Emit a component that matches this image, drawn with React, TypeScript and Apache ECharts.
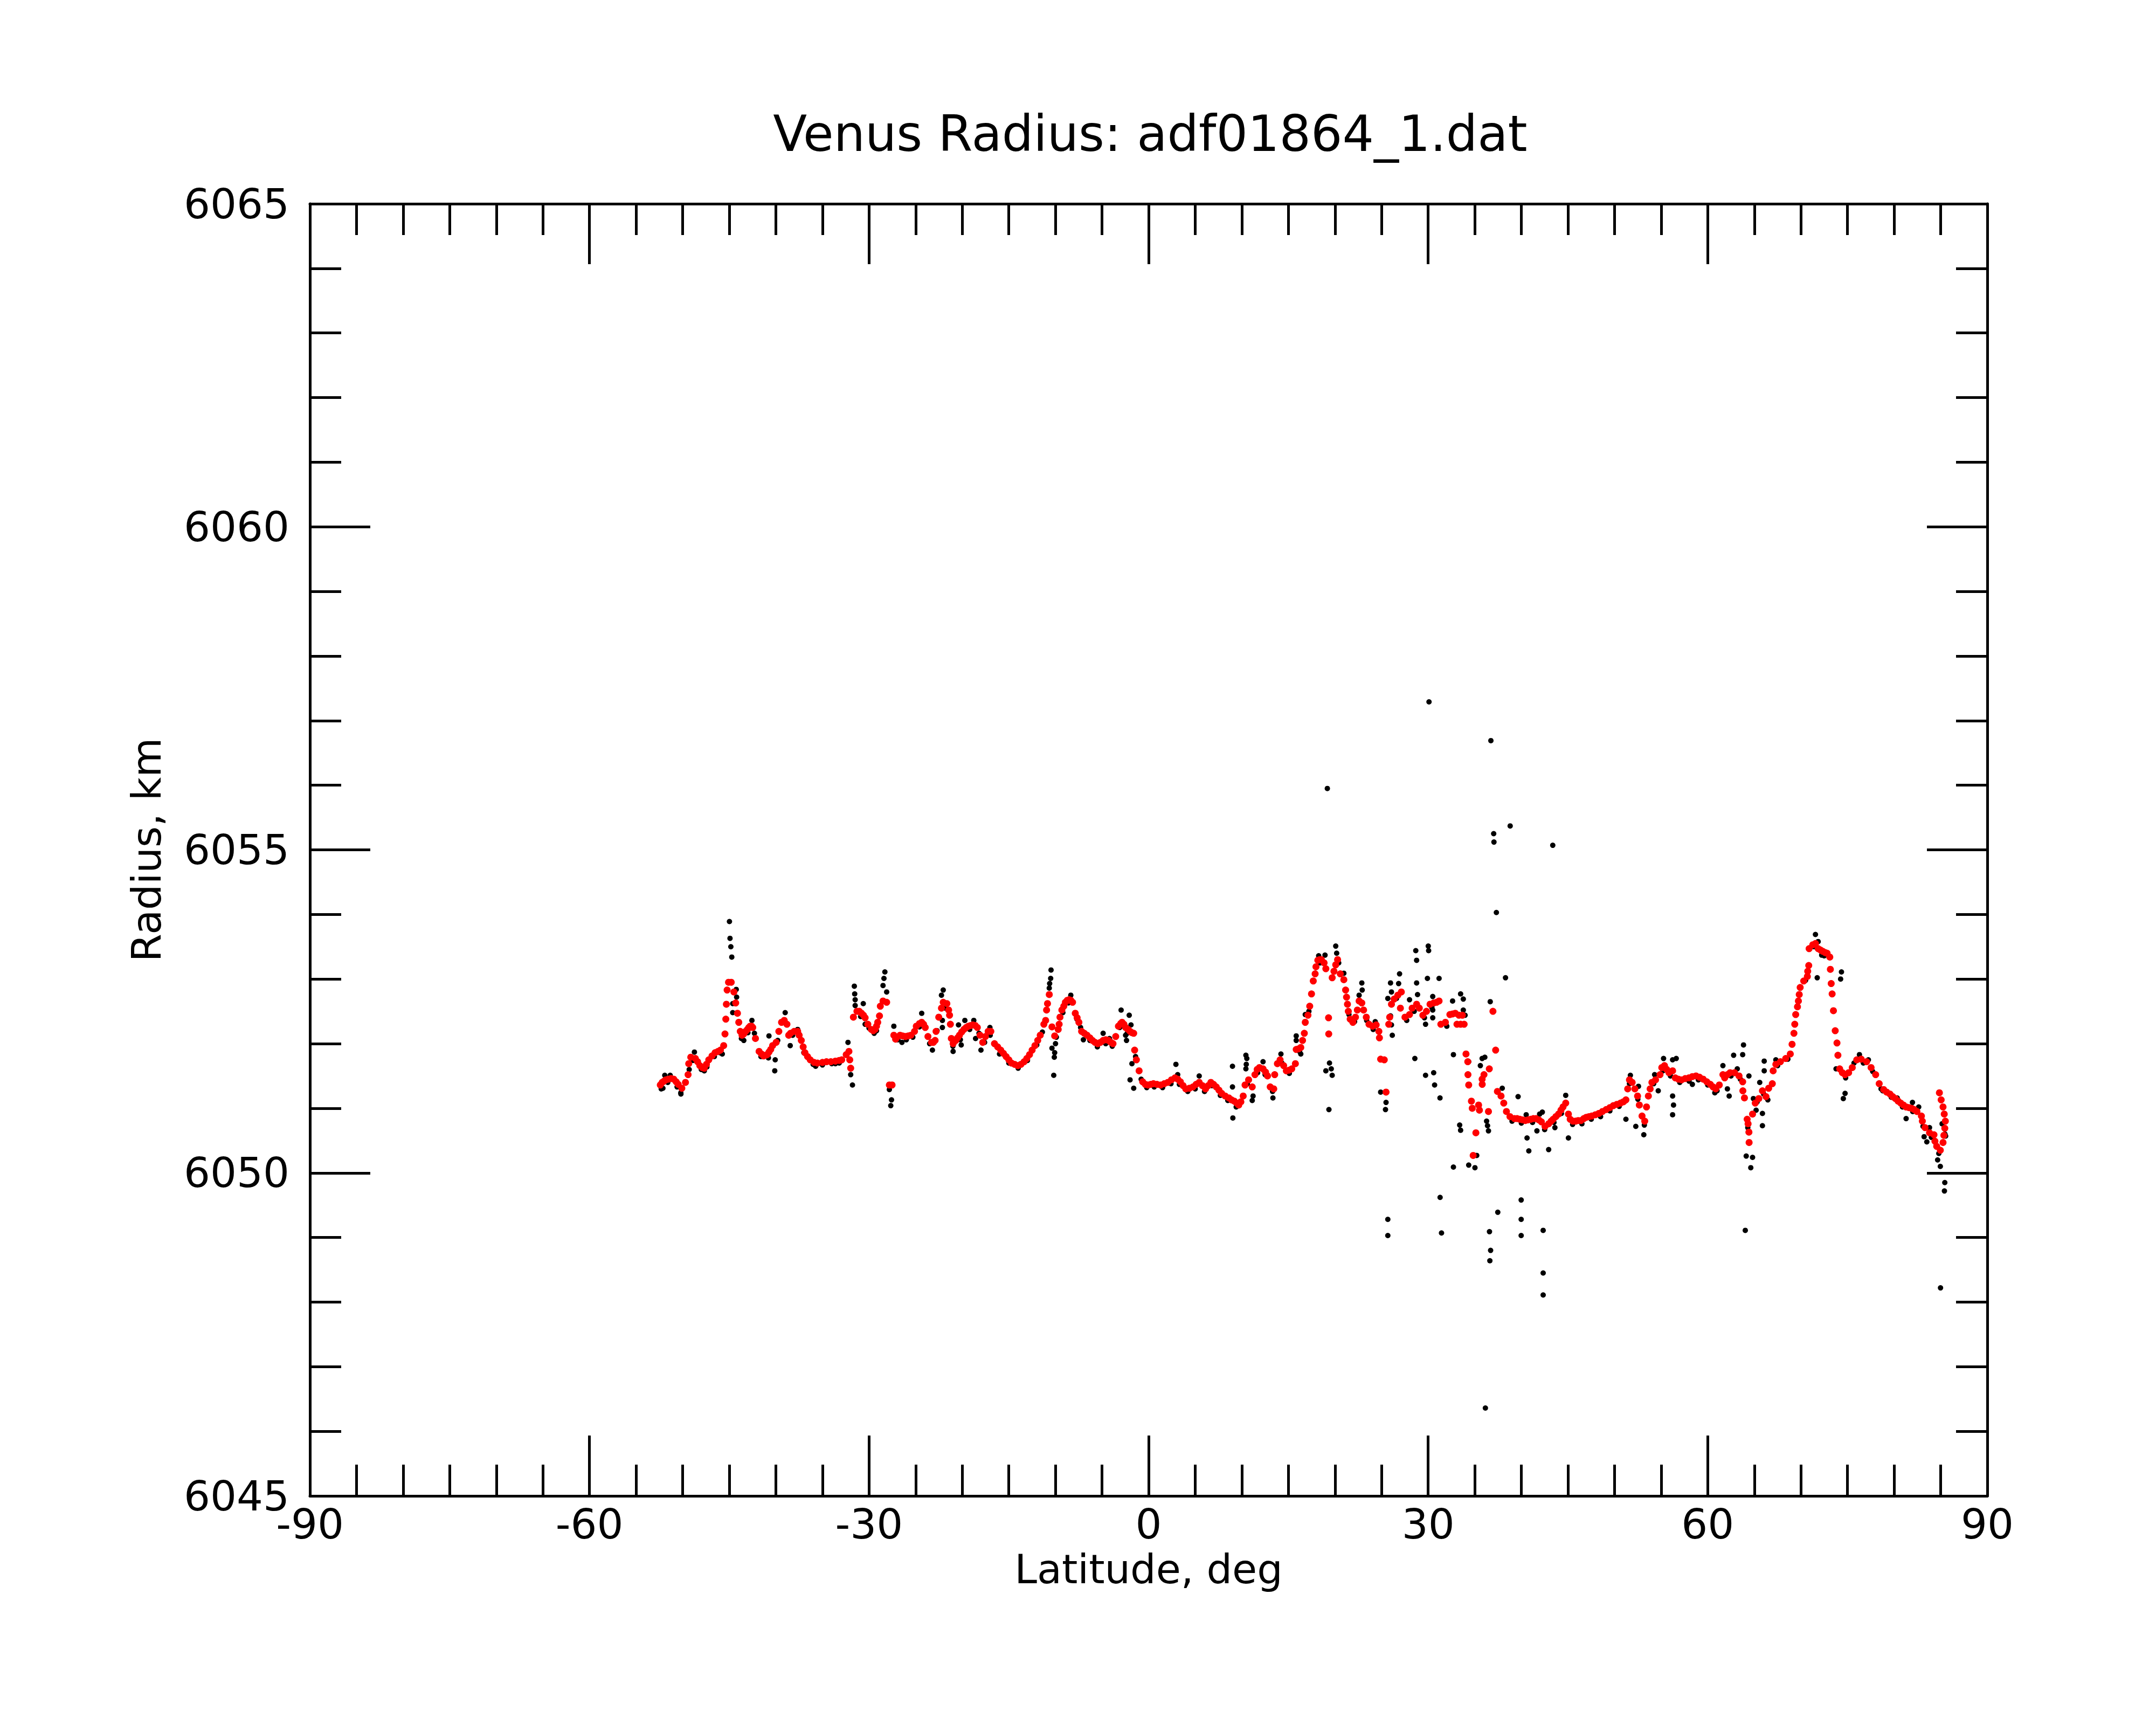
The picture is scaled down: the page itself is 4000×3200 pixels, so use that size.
import React, { useEffect, useRef } from "react";
import * as echarts from "echarts";

const titleText = "Venus Radius: adf01864_1.dat";
const xName = "Latitude, deg";
const yName = "Radius, km";
const xMin = -90;
const xMax = 90;
const xStep = 30;
const yMin = 6045;
const yMax = 6065;
const yStep = 5;

// Smoothed profile (red), southern part
const redSouth: [number, number][] = [
  [-52.4, 6051.36], [-52.2, 6051.4], [-52.0, 6051.42], [-51.8, 6051.44], [-51.54, 6051.45], [-51.25, 6051.46],
  [-50.96, 6051.45], [-50.7, 6051.41], [-50.48, 6051.37], [-50.09, 6051.31], [-49.7, 6051.4], [-49.42, 6051.52],
  [-49.35, 6051.69], [-49.13, 6051.79], [-48.64, 6051.77], [-48.4, 6051.72], [-48.16, 6051.66], [-47.9, 6051.63],
  [-47.68, 6051.62], [-47.45, 6051.68], [-47.2, 6051.75], [-46.85, 6051.81], [-46.52, 6051.86], [-46.2, 6051.88],
  [-45.95, 6051.9], [-45.6, 6051.97], [-45.46, 6052.15], [-45.37, 6052.38], [-45.31, 6052.61], [-45.23, 6052.83],
  [-45.08, 6052.95], [-44.79, 6052.95], [-44.5, 6052.8], [-44.31, 6052.63], [-44.12, 6052.47], [-43.98, 6052.33],
  [-43.82, 6052.19], [-43.63, 6052.13], [-43.45, 6052.15], [-43.25, 6052.19], [-43.05, 6052.22], [-42.9, 6052.25],
  [-42.76, 6052.27], [-42.6, 6052.27], [-42.48, 6052.25], [-42.19, 6052.08], [-41.8, 6051.88], [-41.55, 6051.84],
  [-41.32, 6051.81], [-41.1, 6051.82], [-40.93, 6051.83], [-40.74, 6051.87], [-40.55, 6051.91], [-40.35, 6051.97],
  [-39.97, 6052.02], [-39.68, 6052.19], [-39.39, 6052.33], [-39.1, 6052.36], [-38.81, 6052.3], [-38.62, 6052.13],
  [-38.43, 6052.16], [-38.04, 6052.19], [-37.66, 6052.19], [-37.5, 6052.13], [-37.27, 6052.05], [-37.07, 6051.95],
  [-36.88, 6051.86], [-36.6, 6051.8], [-36.31, 6051.75], [-35.9, 6051.71], [-35.53, 6051.7], [-35.0, 6051.71],
  [-34.57, 6051.72], [-34.1, 6051.72], [-33.61, 6051.73], [-33.2, 6051.74], [-32.93, 6051.75], [-32.45, 6051.83],
  [-32.16, 6051.88], [-32.07, 6051.75], [-31.97, 6051.62], [-31.68, 6052.41], [-31.3, 6052.5], [-31.05, 6052.5],
  [-30.81, 6052.47], [-30.6, 6052.44], [-30.42, 6052.4], [-30.13, 6052.3], [-29.75, 6052.22], [-29.55, 6052.2],
  [-29.36, 6052.22], [-29.2, 6052.27], [-29.07, 6052.33], [-28.88, 6052.43], [-28.79, 6052.58], [-28.5, 6052.66],
  [-28.11, 6052.64], [-27.82, 6051.36], [-27.53, 6051.36], [-27.34, 6052.13], [-27.15, 6052.07], [-27.0, 6052.1],
  [-26.67, 6052.13], [-26.4, 6052.12], [-26.09, 6052.11], [-25.8, 6052.12], [-25.51, 6052.13], [-25.12, 6052.19],
  [-24.93, 6052.27], [-24.6, 6052.31], [-24.35, 6052.33], [-24.15, 6052.3], [-23.97, 6052.25], [-23.68, 6052.11],
  [-23.29, 6052.02], [-23.1, 6052.02], [-22.91, 6052.05], [-22.81, 6052.19], [-22.52, 6052.41], [-22.23, 6052.55],
  [-22.04, 6052.64], [-21.65, 6052.62], [-21.46, 6052.52], [-21.36, 6052.44], [-21.27, 6052.3], [-21.17, 6052.08],
  [-20.98, 6052.0], [-20.69, 6052.05], [-20.5, 6052.09], [-20.3, 6052.13], [-20.06, 6052.18], [-19.82, 6052.22],
  [-19.58, 6052.25], [-19.34, 6052.27], [-19.1, 6052.28], [-18.86, 6052.29], [-18.6, 6052.28], [-18.38, 6052.25],
  [-18.09, 6052.13], [-17.8, 6052.02], [-17.51, 6052.11], [-17.22, 6052.19], [-16.93, 6052.19], [-16.54, 6052.0],
  [-16.2, 6051.95], [-15.87, 6051.9], [-15.58, 6051.85], [-15.29, 6051.8], [-15.0, 6051.75], [-14.71, 6051.7],
  [-14.38, 6051.68], [-14.04, 6051.66], [-13.7, 6051.68], [-13.36, 6051.72], [-13.07, 6051.77], [-12.78, 6051.83],
  [-12.5, 6051.9], [-12.2, 6051.97], [-11.9, 6052.05], [-11.63, 6052.13], [-11.24, 6052.3], [-11.05, 6052.36],
  [-10.95, 6052.52], [-10.85, 6052.62], [-10.66, 6052.76], [-10.37, 6052.26], [-10.08, 6052.12], [-9.7, 6052.22],
  [-9.6, 6052.3], [-9.51, 6052.41], [-9.31, 6052.52], [-9.1, 6052.58], [-8.93, 6052.64], [-8.73, 6052.67],
  [-8.54, 6052.68], [-8.35, 6052.67], [-8.16, 6052.64], [-7.87, 6052.47], [-7.67, 6052.4], [-7.48, 6052.33],
  [-7.19, 6052.19], [-6.9, 6052.16], [-6.61, 6052.13], [-6.3, 6052.09], [-6.03, 6052.05], [-5.75, 6052.02],
  [-5.46, 6052.0], [-5.17, 6052.02], [-4.88, 6052.05], [-4.6, 6052.06], [-4.3, 6052.05], [-4.05, 6052.02],
  [-3.82, 6052.0], [-3.53, 6052.11], [-3.24, 6052.27], [-3.0, 6052.31], [-2.85, 6052.33], [-2.65, 6052.3],
  [-2.47, 6052.25], [-2.2, 6052.22], [-1.99, 6052.19], [-1.8, 6052.17], [-1.6, 6052.16], [-1.5, 6051.9],
  [-1.31, 6051.75], [-1.02, 6051.58], [-0.64, 6051.41], [-0.35, 6051.37], [-0.06, 6051.36],
];

// Smoothed profile (red), northern part
const redNorth: [number, number][] = [
  [0.23, 6051.37], [0.52, 6051.38], [0.9, 6051.37], [1.29, 6051.36], [1.68, 6051.38], [2.06, 6051.4],
  [2.45, 6051.44], [2.83, 6051.47], [3.12, 6051.45], [3.41, 6051.41], [3.7, 6051.35], [3.99, 6051.3],
  [4.38, 6051.31], [4.76, 6051.33], [5.1, 6051.37], [5.43, 6051.4], [5.77, 6051.35], [6.11, 6051.3],
  [6.4, 6051.35], [6.68, 6051.4], [6.97, 6051.37], [7.26, 6051.33], [7.55, 6051.28], [7.84, 6051.23],
  [8.22, 6051.19], [8.61, 6051.16], [8.9, 6051.13], [9.19, 6051.11], [9.45, 6051.08], [9.67, 6051.05],
  [9.9, 6051.1], [10.15, 6051.19], [10.35, 6051.36], [10.73, 6051.44], [11.12, 6051.33], [11.41, 6051.52],
  [11.65, 6051.6], [11.89, 6051.63], [12.28, 6051.61], [12.55, 6051.56], [12.76, 6051.5], [13.05, 6051.33],
  [13.43, 6051.3], [13.53, 6051.52], [13.82, 6051.69], [14.11, 6051.75], [14.49, 6051.66], [14.78, 6051.58],
  [15.08, 6051.59], [15.36, 6051.61], [15.75, 6051.69], [15.84, 6051.91], [16.1, 6051.92], [16.33, 6051.94],
  [16.52, 6052.05], [16.71, 6052.16], [16.81, 6052.33], [17.1, 6052.44], [17.29, 6052.58], [17.48, 6052.77],
  [17.67, 6052.97], [17.87, 6053.08], [17.96, 6053.19], [18.16, 6053.29], [18.35, 6053.3], [18.54, 6053.3],
  [18.83, 6053.25], [19.02, 6053.16], [19.31, 6052.4], [19.33, 6052.15], [19.7, 6053.02], [19.89, 6053.12],
  [20.08, 6053.22], [20.28, 6053.3], [20.57, 6053.08], [20.95, 6052.99], [21.14, 6052.83], [21.24, 6052.72],
  [21.34, 6052.61], [21.43, 6052.5], [21.63, 6052.38], [21.92, 6052.33], [22.2, 6052.41], [22.4, 6052.52],
  [22.59, 6052.66], [22.88, 6052.63], [23.07, 6052.52], [23.36, 6052.41], [23.65, 6052.3], [24.04, 6052.27],
  [24.42, 6052.29], [24.71, 6052.19], [24.77, 6052.09], [24.9, 6051.76], [25.29, 6051.75], [25.48, 6051.25],
  [25.77, 6052.3], [25.87, 6052.41], [26.06, 6052.61], [26.35, 6052.69], [26.74, 6052.75], [27.12, 6052.8],
  [27.02, 6052.55], [27.51, 6052.41], [28.0, 6052.45], [28.28, 6052.55], [28.76, 6052.61], [29.05, 6052.55],
  [29.43, 6052.44], [29.82, 6052.5], [30.2, 6052.61], [30.59, 6052.63], [30.9, 6052.64], [31.17, 6052.66],
  [31.36, 6052.3], [31.85, 6052.33], [32.33, 6052.45], [32.62, 6052.46], [32.91, 6052.47], [33.3, 6052.44],
  [33.67, 6052.44], [33.09, 6052.3], [33.48, 6052.3], [33.86, 6052.3], [34.06, 6051.84], [34.25, 6051.72],
  [34.27, 6051.52], [34.35, 6051.36], [34.64, 6051.11], [34.73, 6051.0], [35.12, 6050.62], [34.83, 6050.27],
  [35.41, 6051.05], [35.5, 6050.97], [35.79, 6051.45], [35.99, 6051.52], [35.8, 6051.37], [36.47, 6050.95],
  [36.56, 6051.61], [36.95, 6052.5], [37.24, 6051.9], [37.43, 6051.26], [37.82, 6051.19], [38.11, 6051.08],
  [38.4, 6050.95], [38.78, 6050.87], [39.26, 6050.84], [39.55, 6050.84], [39.84, 6050.83], [40.13, 6050.82],
  [40.42, 6050.81], [40.71, 6050.82], [41.0, 6050.83], [41.29, 6050.84], [41.58, 6050.84], [41.87, 6050.82],
  [42.15, 6050.79], [42.54, 6050.72], [42.93, 6050.76], [43.2, 6050.8], [43.41, 6050.83], [43.7, 6050.87],
  [43.99, 6050.91], [44.25, 6050.97], [44.47, 6051.02], [44.76, 6051.08], [45.05, 6050.91], [45.24, 6050.83],
  [45.53, 6050.8], [45.82, 6050.8], [46.1, 6050.81], [46.4, 6050.81], [46.7, 6050.84], [46.97, 6050.86],
  [47.26, 6050.87], [47.55, 6050.88], [47.95, 6050.9], [48.32, 6050.92], [48.7, 6050.95], [49.1, 6050.98],
  [49.5, 6051.01], [49.87, 6051.04], [50.25, 6051.06], [50.64, 6051.08], [50.95, 6051.1], [51.22, 6051.13],
  [51.41, 6051.3], [51.6, 6051.44], [51.89, 6051.4], [52.18, 6051.3], [52.47, 6051.19], [52.66, 6051.05],
  [52.95, 6050.88], [53.24, 6050.8], [53.43, 6051.02], [53.63, 6051.19], [53.82, 6051.3], [54.01, 6051.4],
  [54.4, 6051.44], [54.88, 6051.52], [55.07, 6051.63], [55.36, 6051.66], [55.6, 6051.6], [55.84, 6051.55],
  [56.23, 6051.58], [56.52, 6051.47], [56.85, 6051.45], [57.19, 6051.44], [57.58, 6051.46], [57.97, 6051.47],
  [58.35, 6051.49], [58.74, 6051.5], [59.12, 6051.48], [59.51, 6051.45], [59.9, 6051.41], [60.28, 6051.37],
  [60.57, 6051.33], [60.86, 6051.3], [61.24, 6051.36], [61.63, 6051.52], [61.82, 6051.47], [62.11, 6051.52],
  [62.4, 6051.55], [62.88, 6051.55], [63.36, 6051.5], [63.75, 6051.41], [63.77, 6051.27], [63.94, 6051.16],
  [64.23, 6050.83], [64.33, 6050.76], [64.42, 6050.63], [64.44, 6050.47], [64.81, 6050.91], [65.1, 6051.08],
  [65.48, 6051.15], [65.87, 6051.27], [66.25, 6051.18], [66.54, 6051.31], [66.93, 6051.38], [67.02, 6051.58],
  [67.31, 6051.68], [67.8, 6051.72], [68.37, 6051.77], [68.86, 6051.84], [69.05, 6051.99], [69.25, 6052.16],
  [69.34, 6052.3], [69.44, 6052.45], [69.63, 6052.57], [69.73, 6052.66], [69.82, 6052.76], [69.92, 6052.87],
  [70.3, 6052.97], [70.69, 6053.04], [70.73, 6053.12], [70.84, 6053.21], [70.88, 6053.47], [71.27, 6053.53],
  [71.56, 6053.55], [71.85, 6053.47], [72.1, 6053.45], [72.33, 6053.43], [72.6, 6053.41], [72.81, 6053.4],
  [73.1, 6053.34], [73.16, 6053.15], [73.25, 6052.93], [73.35, 6052.77], [73.49, 6052.51], [73.68, 6052.2],
  [73.87, 6052.01], [73.97, 6051.82], [74.16, 6051.61], [74.45, 6051.55], [74.74, 6051.52], [75.12, 6051.55],
  [75.51, 6051.63], [75.99, 6051.75], [76.47, 6051.76], [77.05, 6051.72], [77.53, 6051.63], [78.02, 6051.52],
  [78.4, 6051.38], [78.88, 6051.29], [79.2, 6051.25], [79.56, 6051.22], [79.85, 6051.18], [80.14, 6051.15],
  [80.43, 6051.11], [80.71, 6051.08], [81.0, 6051.05], [81.29, 6051.02], [81.58, 6051.01], [81.87, 6051.0],
  [82.16, 6050.98], [82.45, 6050.95], [82.93, 6050.88], [83.03, 6050.8], [83.32, 6050.7], [83.8, 6050.62],
  [84.28, 6050.59], [84.38, 6050.49], [84.57, 6050.41], [84.96, 6050.35], [85.25, 6050.47], [85.34, 6050.58],
  [85.44, 6050.69], [85.5, 6050.8], [85.38, 6050.91], [85.25, 6051.02], [85.05, 6051.13], [84.86, 6051.24],
];

// Raw radius points (black) lying along the profile
const blackTrack: [number, number][] = [
  [-52.3, 6051.3], [-51.6, 6051.4], [-50.6, 6051.33], [-50.2, 6051.24], [-49.3, 6051.6], [-48.9, 6051.74],
  [-48.0, 6051.6], [-47.4, 6051.64], [-46.6, 6051.8], [-46.0, 6051.86], [-43.7, 6052.08], [-43.0, 6052.17],
  [-42.3, 6052.16], [-41.6, 6051.8], [-40.8, 6051.78], [-39.8, 6052.05], [-38.9, 6052.3], [-38.2, 6052.13],
  [-37.0, 6051.86], [-36.0, 6051.68], [-35.0, 6051.67], [-34.0, 6051.69], [-33.2, 6051.7], [-30.9, 6052.42],
  [-30.0, 6052.24], [-29.2, 6052.2], [-26.9, 6052.06], [-26.0, 6052.06], [-25.3, 6052.1], [-24.6, 6052.26],
  [-23.5, 6052.0], [-22.7, 6052.2], [-21.8, 6052.55], [-21.0, 6051.96], [-20.2, 6052.06], [-19.2, 6052.22],
  [-18.2, 6052.16], [-17.6, 6052.02], [-17.0, 6052.13], [-16.0, 6051.84], [-15.0, 6051.7], [-14.0, 6051.62],
  [-13.0, 6051.74], [-12.0, 6051.98], [-11.4, 6052.18], [-9.9, 6052.1], [-9.2, 6052.48], [-8.6, 6052.63],
  [-7.7, 6052.38], [-7.3, 6052.25], [-6.3, 6052.05], [-5.5, 6051.95], [-4.6, 6052.0], [-3.9, 6051.96],
  [-3.1, 6052.25], [-2.3, 6052.16], [-1.4, 6051.8], [-0.8, 6051.45], [-0.2, 6051.32],
  [0.6, 6051.33], [1.5, 6051.32], [2.4, 6051.38], [3.3, 6051.37], [4.2, 6051.26], [5.0, 6051.3],
  [6.0, 6051.26], [6.8, 6051.35], [7.7, 6051.2], [8.5, 6051.12], [9.4, 6051.02], [10.6, 6051.38],
  [11.7, 6051.55], [12.5, 6051.52], [13.3, 6051.26], [14.3, 6051.7], [15.1, 6051.54], [16.2, 6051.88],
  [17.2, 6052.5], [18.4, 6053.25], [20.4, 6053.25], [21.5, 6052.45], [22.1, 6052.34], [23.4, 6052.36],
  [24.1, 6052.22], [26.6, 6052.7], [27.7, 6052.36], [28.5, 6052.5], [29.6, 6052.4], [30.4, 6052.56],
  [32.0, 6052.27], [39.0, 6050.8], [40.0, 6050.77], [41.2, 6050.78], [42.5, 6050.67], [43.5, 6050.78],
  [44.3, 6050.92], [45.5, 6050.75], [46.5, 6050.76], [47.5, 6050.83], [48.5, 6050.87], [49.5, 6050.96],
  [50.5, 6051.03], [51.6, 6051.38], [52.5, 6051.14], [53.2, 6050.74], [54.2, 6051.38], [55.2, 6051.58],
  [56.0, 6051.5], [57.0, 6051.4], [58.0, 6051.42], [59.0, 6051.44], [60.0, 6051.36], [61.0, 6051.27],
  [62.5, 6051.5], [63.5, 6051.45], [64.3, 6050.7], [65.3, 6051.1], [66.0, 6051.22], [67.5, 6051.66],
  [68.6, 6051.76], [70.5, 6052.98], [71.4, 6053.5], [72.5, 6053.36], [74.8, 6051.47], [75.7, 6051.7],
  [76.7, 6051.7], [77.7, 6051.57], [78.6, 6051.3], [79.7, 6051.17], [80.9, 6051.02], [82.0, 6050.95],
  [83.1, 6050.72], [84.0, 6050.55], [84.8, 6050.3], [85.45, 6050.6],
];

// Raw radius points (black) scattered off the profile
const blackScatter: [number, number][] = [
  [-52.12, 6051.31], [-51.92, 6051.51], [-51.34, 6051.51], [-50.19, 6051.22], [-48.74, 6051.87], [-47.68, 6051.58],
  [-45.75, 6051.84], [-44.98, 6053.89], [-44.92, 6053.63], [-44.83, 6053.5], [-44.73, 6053.34], [-44.25, 6052.84],
  [-44.21, 6052.72], [-44.63, 6052.62], [-44.63, 6052.48], [-43.44, 6052.05], [-42.57, 6052.36], [-40.74, 6052.12],
  [-40.07, 6051.75], [-40.12, 6051.58], [-39.0, 6052.48], [-38.46, 6051.97], [-37.66, 6052.22], [-35.73, 6051.65],
  [-33.61, 6051.69], [-32.26, 6052.02], [-31.97, 6051.52], [-31.78, 6051.36], [-31.58, 6052.89], [-31.54, 6052.77],
  [-31.49, 6052.68], [-31.49, 6052.59], [-30.62, 6052.62], [-30.42, 6052.3], [-29.45, 6052.16], [-28.3, 6053.11],
  [-28.4, 6053.01], [-28.5, 6052.9], [-28.11, 6052.8], [-27.82, 6051.29], [-27.59, 6051.13], [-27.67, 6051.04],
  [-27.34, 6052.27], [-26.47, 6052.02],
  [-24.35, 6052.47], [-23.2, 6051.9], [-22.04, 6052.83], [-22.23, 6052.75], [-22.13, 6052.36], [-22.13, 6052.25],
  [-20.4, 6052.29], [-20.98, 6051.88], [-20.11, 6051.98], [-19.72, 6052.36], [-18.76, 6052.36], [-18.57, 6052.08],
  [-17.99, 6051.9], [-17.03, 6052.25], [-10.47, 6053.14], [-10.51, 6053.01], [-10.62, 6052.93], [-10.66, 6052.86],
  [-9.99, 6052.0], [-10.37, 6051.93], [-10.08, 6051.86], [-10.12, 6051.79], [-10.18, 6051.51], [-8.35, 6052.75],
  [-7.0, 6052.06], [-4.88, 6052.16], [-4.2, 6052.08], [-2.95, 6052.52], [-2.08, 6052.44], [-1.89, 6052.29],
  [-2.47, 6052.13], [-2.37, 6052.05], [-1.79, 6051.69], [-1.99, 6051.44], [-1.6, 6051.31], [2.93, 6051.68],
  [3.12, 6051.52],
  [5.43, 6051.5], [9.0, 6051.65], [9.0, 6051.33], [9.04, 6050.85], [10.44, 6051.82], [10.54, 6051.77],
  [10.48, 6051.68], [10.44, 6051.61], [11.21, 6051.19], [11.12, 6051.12], [12.28, 6051.72], [13.34, 6051.16],
  [14.2, 6051.84], [15.84, 6052.12], [15.84, 6052.05], [16.33, 6051.84], [16.81, 6052.45], [18.25, 6053.36],
  [18.93, 6053.37], [20.08, 6053.51], [20.18, 6053.4], [20.95, 6053.09], [19.41, 6051.7], [19.02, 6051.58],
  [19.6, 6051.61], [19.7, 6051.51], [19.35, 6050.98], [22.88, 6052.94], [22.92, 6052.83], [22.59, 6052.75],
  [24.32, 6052.34], [25.96, 6052.94], [26.06, 6052.8], [25.67, 6052.7], [25.96, 6052.43], [26.06, 6052.29],
  [26.15, 6052.13], [24.9, 6051.25], [25.48, 6051.09], [25.42, 6050.98], [26.93, 6053.08], [26.83, 6052.93],
  [28.67, 6053.44], [28.76, 6053.29], [28.76, 6052.94], [28.86, 6052.76], [28.0, 6052.68], [30.01, 6053.51],
  [30.05, 6053.44], [29.92, 6053.01], [31.17, 6053.01], [30.49, 6052.73], [30.49, 6052.52], [30.49, 6052.4],
  [29.72, 6052.3], [28.57, 6051.77], [29.72, 6051.51], [30.59, 6051.55], [30.69, 6051.36], [31.27, 6051.16],
  [32.62, 6052.66], [32.71, 6051.83], [32.71, 6050.09],
  [33.48, 6052.77], [33.77, 6052.69], [33.77, 6052.52], [33.96, 6052.44], [34.35, 6051.72], [35.79, 6051.77],
  [36.08, 6051.79], [35.6, 6051.66], [36.27, 6050.8], [36.37, 6050.73], [36.47, 6050.65], [33.38, 6050.74],
  [33.48, 6050.66], [35.21, 6050.27], [34.35, 6050.12], [35.02, 6050.08], [36.66, 6052.65], [38.3, 6053.02],
  [37.95, 6051.31], [39.65, 6051.18], [40.52, 6050.9], [40.61, 6050.54], [40.8, 6050.34], [41.67, 6050.65],
  [41.96, 6050.91], [42.25, 6050.94], [42.93, 6050.36], [43.6, 6050.7], [44.76, 6051.2], [45.05, 6050.54],
  [51.22, 6050.83], [52.28, 6050.72], [53.14, 6050.59], [51.7, 6051.51], [52.57, 6051.34], [54.3, 6051.52],
  [55.26, 6051.77], [56.23, 6051.75], [56.62, 6051.77], [56.23, 6051.19], [56.33, 6051.05], [56.23, 6050.9],
  [58.35, 6051.37], [60.76, 6051.24], [61.63, 6051.66], [54.69, 6051.27],
  [62.78, 6051.82], [63.84, 6051.98], [63.75, 6051.83], [63.17, 6051.61], [64.42, 6051.5], [62.11, 6051.3],
  [62.3, 6051.19], [64.9, 6051.15], [65.19, 6050.97], [64.13, 6050.26], [64.81, 6050.24], [64.62, 6050.08],
  [65.87, 6050.92], [65.87, 6050.73], [66.06, 6051.73], [66.06, 6051.58], [65.58, 6051.4], [66.45, 6051.13],
  [67.31, 6051.75], [71.56, 6053.69], [71.85, 6053.58], [72.23, 6053.37], [71.75, 6053.02], [74.35, 6053.11],
  [74.26, 6053.0], [73.77, 6051.61], [74.74, 6051.23], [74.55, 6051.15], [76.28, 6051.83], [77.24, 6051.75],
  [78.78, 6051.27], [80.33, 6051.16], [81.29, 6050.84], [81.97, 6051.09], [82.64, 6051.02], [83.22, 6050.56],
  [83.51, 6050.48], [83.8, 6050.7], [84.67, 6050.2], [84.96, 6050.1], [85.44, 6049.85], [85.53, 6050.57],
  [85.15, 6050.76],
];

// Far outliers (black)
const blackOutliers: [number, number][] = [
  [19.18, 6055.95], [30.09, 6057.29], [25.67, 6049.28], [25.67, 6049.03], [31.28, 6049.62], [31.43, 6049.07],
  [36.73, 6056.69], [37.03, 6055.25], [37.06, 6055.12], [38.8, 6055.37], [43.37, 6055.07], [37.32, 6054.03],
  [36.14, 6046.36], [36.58, 6049.09], [36.62, 6048.64], [36.7, 6048.8], [37.47, 6049.39], [39.98, 6049.58],
  [39.98, 6049.28], [39.98, 6049.03], [42.34, 6049.11], [42.34, 6048.45], [42.34, 6048.11], [64.03, 6049.11],
  [84.98, 6048.22], [85.4, 6049.72],
];

const FONT = "DejaVu Sans";

function axisCommon(show: boolean) {
  return {
    axisLine: { show: true, onZero: false, lineStyle: { color: "#000", width: 5 } },
    axisTick: { show: true, inside: true, length: 112, lineStyle: { color: "#000", width: 5 } },
    minorTick: { show: true, length: 58, lineStyle: { color: "#000", width: 5 } },
    splitLine: { show: false },
    minorSplitLine: { show: false },
    axisLabel: { show },
  };
}

export default function App() {
  const ref = useRef<HTMLDivElement>(null);
  useEffect(() => {
    if (!ref.current) return;
    const chart = echarts.init(ref.current, undefined, { renderer: "svg" });
    const base = axisCommon(true);
    const hidden = axisCommon(false);
    const blackAll = blackTrack.concat(blackScatter, blackOutliers);
    const redAll = redSouth.concat(redNorth);
    chart.setOption({
      animation: false,
      backgroundColor: "#fff",
      textStyle: { fontFamily: FONT },
      grid: { left: 575, top: 378, width: 3112, height: 2397, containLabel: false },
      graphic: [
        {
          type: "text",
          x: 2134,
          y: 248,
          style: {
            text: titleText,
            fontSize: 92,
            fontFamily: FONT,
            fill: "#000",
            textAlign: "center",
            textVerticalAlign: "middle",
          },
        },
      ],
      xAxis: [
        {
          type: "value",
          position: "bottom",
          min: xMin,
          max: xMax,
          interval: xStep,
          ...base,
          minorTick: { ...base.minorTick, splitNumber: 6 },
          axisLabel: { show: true, fontSize: 77, color: "#000", fontFamily: FONT, margin: 14 },
          name: xName,
          nameLocation: "middle",
          nameGap: 98,
          nameTextStyle: { fontSize: 75, color: "#000", fontFamily: FONT },
        },
        {
          type: "value",
          position: "top",
          min: xMin,
          max: xMax,
          interval: xStep,
          ...hidden,
          minorTick: { ...hidden.minorTick, splitNumber: 6 },
        },
      ],
      yAxis: [
        {
          type: "value",
          position: "left",
          min: yMin,
          max: yMax,
          interval: yStep,
          ...base,
          minorTick: { ...base.minorTick, splitNumber: 5 },
          axisLabel: {
            show: true,
            fontSize: 77,
            color: "#000",
            fontFamily: FONT,
            margin: 38,
            formatter: (v: number) => String(v),
          },
          name: yName,
          nameLocation: "middle",
          nameGap: 266,
          nameTextStyle: { fontSize: 75, color: "#000", fontFamily: FONT },
        },
        {
          type: "value",
          position: "right",
          min: yMin,
          max: yMax,
          interval: yStep,
          ...hidden,
          minorTick: { ...hidden.minorTick, splitNumber: 5 },
        },
      ],
      series: [
        {
          type: "scatter",
          name: "raw",
          xAxisIndex: 0,
          yAxisIndex: 0,
          symbol: "circle",
          symbolSize: 10,
          itemStyle: { color: "#000", opacity: 1 },
          data: blackAll,
          silent: true,
        },
        {
          type: "scatter",
          name: "smoothed",
          xAxisIndex: 0,
          yAxisIndex: 0,
          symbol: "circle",
          symbolSize: 13,
          itemStyle: { color: "#ff0000", opacity: 1 },
          data: redAll,
          silent: true,
        },
      ],
    });
    return () => chart.dispose();
  }, []);
  return (
    <div
      ref={ref}
      style={{ position: "absolute", left: 0, top: 0, width: 4000, height: 3200, background: "#fff" }}
    />
  );
}
